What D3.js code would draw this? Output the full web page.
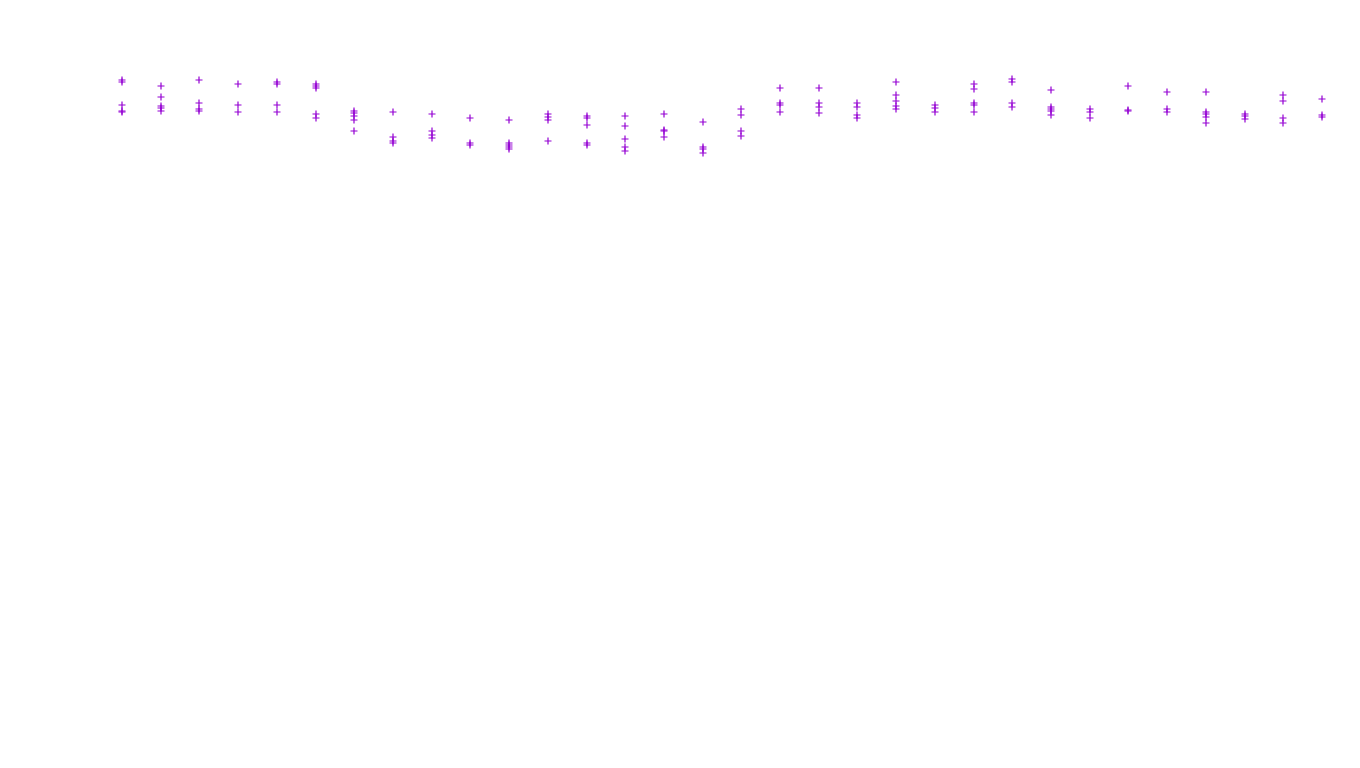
<!DOCTYPE html>
<html>
<head>
<meta charset="utf-8">
<script src="https://cdn.jsdelivr.net/npm/d3@7"></script>
<style>
  body { margin: 0; background: #fff; }
  svg { display: block; }
</style>
</head>
<body>
<div id="chart"></div>
<script>
// one column of readings per sample index
const samples = d3.range(1, 33);

const readings = [
    [68.8, 68.6, 66.3, 65.7, 65.6],
    [68.2, 67.1, 66.2, 66.0, 65.7],
    [68.8, 66.5, 65.9, 65.7],
    [68.4, 66.3, 65.6],
    [68.6, 68.4, 66.3, 65.6],
    [68.4, 68.2, 68.0, 65.4, 65.0],
    [65.7, 65.5, 65.2, 64.8, 63.7],
    [65.6, 63.1, 62.7, 62.5],
    [65.4, 63.7, 63.3, 63.0],
    [65.0, 62.5, 62.3],
    [64.8, 62.5, 62.3, 62.1, 61.9],
    [65.4, 65.1, 64.8, 62.7],
    [65.2, 65.0, 64.3, 62.5, 62.3],
    [65.2, 64.2, 62.9, 62.1, 61.7],
    [65.4, 63.8, 63.7, 63.1],
    [64.6, 62.1, 61.9, 61.5],
    [65.9, 65.3, 63.7, 63.2],
    [68.0, 66.5, 66.3, 65.6],
    [68.0, 66.5, 66.1, 65.5],
    [66.5, 66.1, 65.3, 65.0],
    [68.6, 67.3, 66.7, 66.2, 65.9],
    [66.3, 66.0, 65.6],
    [68.4, 67.9, 66.5, 66.3, 65.6],
    [68.9, 68.6, 66.5, 66.1],
    [67.8, 66.1, 65.9, 65.7, 65.3],
    [65.9, 65.6, 65.0],
    [68.2, 65.8, 65.7],
    [67.6, 65.9, 65.6],
    [67.6, 65.6, 65.4, 65.1, 64.5],
    [65.4, 65.2, 64.9],
    [67.3, 66.7, 65.0, 64.5],
    [66.9, 65.3, 65.1]
];

const yDomain = [0, 76.8];

let width = 1360, height = 768;

let svg = d3.select("#chart").append("svg")
    .attr("width", width)
    .attr("height", height);

let x = d3.scaleLinear()
    .domain([1, 32])
    .range([122, 1322]);

let y = d3.scaleLinear()
    .domain(yDomain)
    .range([height, 0]);

// flatten to points
let points = [];
samples.forEach(function(s, i) {
    readings[i].forEach(function(v) {
        points.push({sample: s, value: v});
    });
});

let size = 3.5;
svg.append("g")
    .selectAll("path")
    .data(points)
    .enter()
    .append("path")
    .attr("transform", function(d) {
        return "translate(" + Math.round(x(d.sample)) + "," + Math.round(y(d.value)) + ")";
    })
    .attr("d", "M" + (-size) + ",0H" + size + "M0," + (-size) + "V" + size)
    .attr("stroke", "#9400d3")
    .attr("stroke-width", 1.2)
    .attr("fill", "none");
</script>
</body>
</html>
